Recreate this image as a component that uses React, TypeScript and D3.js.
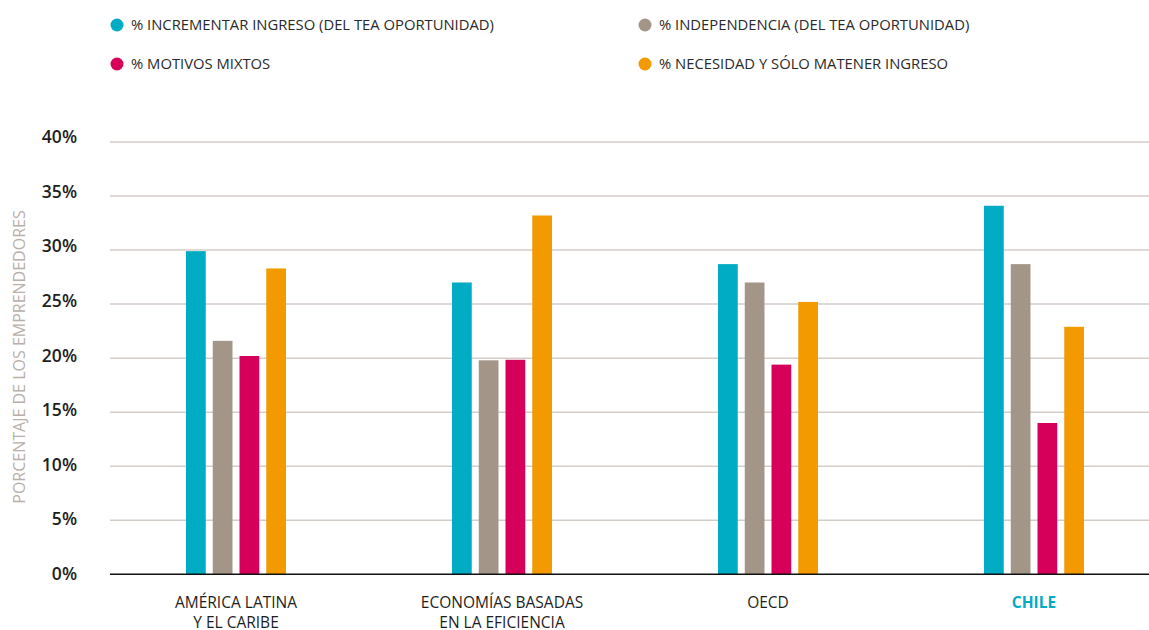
import React from "react";
import * as d3 from "d3";

const categories = ["AMÉRICA LATINA|Y EL CARIBE", "ECONOMÍAS BASADAS|EN LA EFICIENCIA", "OECD", "CHILE"];
const seriesNames = [
  "% INCREMENTAR INGRESO (DEL TEA OPORTUNIDAD)",
  "% INDEPENDENCIA (DEL TEA OPORTUNIDAD)",
  "% MOTIVOS MIXTOS",
  "% NECESIDAD Y SÓLO MATENER INGRESO",
];
const seriesColors = ["#00abc4", "#a39689", "#d6005a", "#f29a00"];
const incrementar = [29.9, 27.0, 28.7, 34.1];
const independencia = [21.6, 19.8, 27.0, 28.7];
const mixtos = [20.2, 19.85, 19.4, 14.0];
const necesidad = [28.3, 33.2, 25.2, 22.9];
const yTicks = [0, 5, 10, 15, 20, 25, 30, 35, 40];
const highlight = "CHILE";

const W = 1149;
const H = 630;
const FONT = "'Open Sans', sans-serif";

export default function App() {
  const series = [incrementar, independencia, mixtos, necesidad];
  const y = d3.scaleLinear().domain([0, 40]).range([574.3, 142]);
  const yLabel = d3.scaleLinear().domain([0, 40]).range([580, 143]);
  const xc = d3.scalePoint().domain(categories).range([236, 1034]);
  const x1 = d3.scaleBand().domain(seriesNames).range([-50, 50]).paddingInner(0.262).paddingOuter(0);
  const gridX0 = 110;
  const gridX1 = 1149;
  const legendPos = [
    [117, 25],
    [645, 25],
    [117, 64],
    [645, 64],
  ];
  return (
    <svg width={W} height={H} style={{ position: "absolute", left: 0, top: 0, background: "#fff" }}>
      {seriesNames.map((s, i) => (
        <g key={s} transform={`translate(${legendPos[i][0]},${legendPos[i][1]})`}>
          <circle r={6.5} fill={seriesColors[i]} />
          <text x={14} y={5} fontFamily={FONT} fontSize={14.8} fill="#2a2a2a">
            {s}
          </text>
        </g>
      ))}
      {yTicks.map((t) =>
        t === 0 ? null : (
          <line key={t} x1={gridX0} x2={gridX1} y1={y(t)} y2={y(t)} stroke="#d3cdc8" strokeWidth={1.5} />
        )
      )}
      {yTicks.map((t) => (
        <text key={"l" + t} x={77} y={yLabel(t)} textAnchor="end" fontFamily={FONT} fontSize={17.5} fontWeight={600} fill="#1e1e1e">
          {t}%
        </text>
      ))}
      <text
        transform={`translate(25,357) rotate(-90)`}
        textAnchor="middle"
        fontFamily={FONT}
        fontSize={16}
        fill="#b8b0a9"
      >
        PORCENTAJE DE LOS EMPRENDEDORES
      </text>
      {categories.map((c, ci) => (
        <g key={c} transform={`translate(${xc(c)},0)`}>
          {seriesNames.map((s, si) => (
            <rect
              key={s}
              x={x1(s)}
              width={x1.bandwidth()}
              y={y(series[si][ci])}
              height={y(0) - y(series[si][ci])}
              fill={seriesColors[si]}
            />
          ))}
        </g>
      ))}
      <line x1={gridX0} x2={gridX1} y1={y(0)} y2={y(0)} stroke="#111" strokeWidth={1.5} />
      {categories.map((c) => {
        const lines = c.split("|");
        const isHi = lines[0] === highlight;
        return (
          <text
            key={"c" + c}
            textAnchor="middle"
            fontFamily={FONT}
            fontSize={15.5}
            fontWeight={isHi ? 700 : 500}
            fill={isHi ? "#00abc4" : "#1e1e1e"}
          >
            {lines.map((l, li) => (
              <tspan key={l} x={xc(c)} y={608 + li * 20}>
                {l}
              </tspan>
            ))}
          </text>
        );
      })}
    </svg>
  );
}
